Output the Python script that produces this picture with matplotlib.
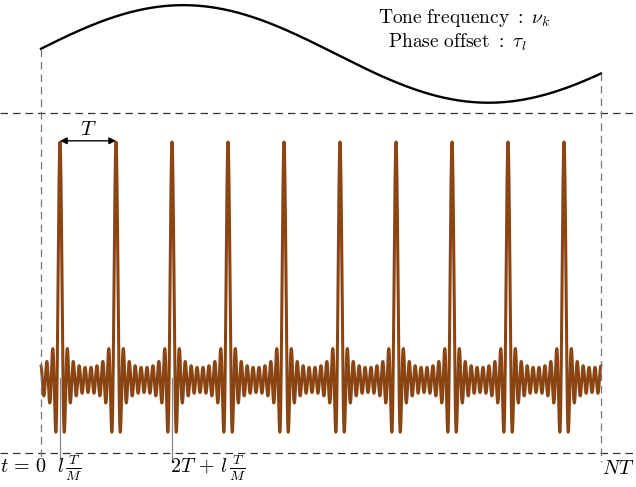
import numpy as np
import matplotlib.pyplot as plt

plt.rcParams['mathtext.fontset'] = 'cm'

# pulse train parameters (time in units of T)
N = 10            # number of periods shown
T = 1.0
l_over_M = 0.34   # phase offset l*T/M
harmonics = [1, 2, 3, 4, 5, 6, 7, 8, 9]
harm_amp = [2, 2, 2, 2, 2, 2, 2, 2, 2]
dc_amp = 1
norm = 19.0

# tone drawn on top
tone_mid = 1.37
tone_amp = 0.205
tone_period = 10.9
tone_peak_t = 2.54

t = np.linspace(0, N * T, 6000)
x = 2 * np.pi * (t - l_over_M * T) / T
sig = np.full_like(t, dc_amp, dtype=float)
for k, a in zip(harmonics, harm_amp):
    sig += a * np.cos(k * x)
sig /= norm

tone = tone_mid + tone_amp * np.cos(2 * np.pi * (t - tone_peak_t) / tone_period)

fig = plt.figure(figsize=(6.36, 4.87), dpi=100)
ax = fig.add_axes([0, 0, 1, 1])
ax.set_xlim(-41 / 56, 595 / 56)
ax.set_ylim(-107 / 238, 380 / 238)
ax.axis('off')

ax.plot(t, sig, color='#8B4513', lw=2.2, solid_capstyle='round')
ax.plot(t, tone, color='black', lw=1.7)

# dashed guides
ax.axhline(1.122, color='#333333', lw=0.9, ls=(0, (6, 4)))
ax.axhline(-0.307, color='#333333', lw=0.9, ls=(0, (6, 4)))
for tv in [0, N * T]:
    ax.plot([tv, tv], [tone[0] if tv == 0 else tone[-1], -0.345],
            color='#777777', lw=0.9, ls=(0, (6, 4)))

# solid markers for lT/M and 2T + lT/M
for tv in [l_over_M * T, 2 * T + l_over_M * T]:
    ax.plot([tv, tv], [0.01, -0.335], color='#888888', lw=0.9)

# period arrow
ax.annotate('', xy=(l_over_M * T, 1.005), xytext=(l_over_M * T + T, 1.005),
            arrowprops=dict(arrowstyle='<|-|>', color='#aaaaaa', lw=1.0,
                            mutation_scale=10, shrinkA=0, shrinkB=0,
                            fc='black', ec='black'))
ax.text(l_over_M * T + 0.5 * T, 1.055, r'$T$', fontsize=15, ha='center', va='center')

# labels
fs = 14.5
ax.text(-0.74, -0.365, r'$t\,=\,0$', fontsize=fs, ha='left', va='center')
ax.text(l_over_M * T - 0.06, -0.37, r'$l\,\frac{T}{M}$', fontsize=fs, ha='left', va='center')
ax.text(2 * T + l_over_M * T - 0.03, -0.37, r'$2T\,+\,l\,\frac{T}{M}$', fontsize=fs,
        ha='left', va='center')
ax.text(N * T + 0.01, -0.37, r'$NT$', fontsize=fs, ha='left', va='center')

ax.text(9.1, 1.52, r'$\mathrm{Tone\ frequency}\ :\ \nu_k$', fontsize=14, ha='right', va='center')
ax.text(8.68, 1.42, r'$\mathrm{Phase\ offset}\ :\ \tau_l$', fontsize=14, ha='right', va='center')

fig.savefig('out.png', dpi=100)
